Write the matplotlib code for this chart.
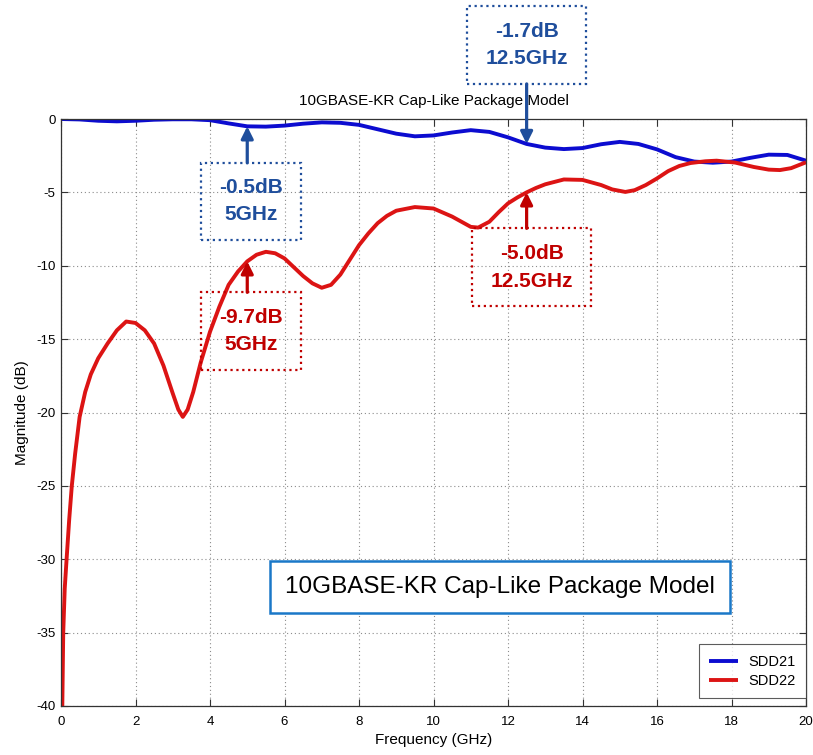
import matplotlib
matplotlib.use("Agg")
import matplotlib.pyplot as plt
from matplotlib.patches import Rectangle
from matplotlib.transforms import IdentityTransform

# ---- data -------------------------------------------------------------
sdd21_freq = [0.0, 0.5, 1.0, 1.5, 2.0, 2.5, 3.0, 3.5, 4.0, 4.5, 5.0, 5.5, 6.0,
              6.5, 7.0, 7.5, 8.0, 8.5, 9.0, 9.5, 10.0, 10.5, 11.0, 11.5, 12.0,
              12.5, 13.0, 13.5, 14.0, 14.5, 15.0, 15.5, 16.0, 16.5, 17.0, 17.5,
              18.0, 18.5, 19.0, 19.5, 20.0]
sdd21_db = [0.0, -0.03, -0.12, -0.16, -0.12, -0.05, -0.02, -0.02, -0.08, -0.3,
            -0.5, -0.52, -0.45, -0.32, -0.23, -0.26, -0.4, -0.7, -1.0, -1.18,
            -1.12, -0.92, -0.76, -0.88, -1.25, -1.7, -1.95, -2.05, -1.98, -1.72,
            -1.56, -1.7, -2.07, -2.6, -2.9, -2.98, -2.9, -2.65, -2.43, -2.45,
            -2.84]

sdd22_freq = [0.035, 0.06, 0.1, 0.15, 0.22, 0.29, 0.38, 0.5, 0.65, 0.8, 1.0,
              1.25, 1.5, 1.75, 2.0, 2.25, 2.5, 2.75, 3.0, 3.15, 3.27, 3.4, 3.55,
              3.75, 4.0, 4.25, 4.5, 4.75, 5.0, 5.25, 5.5, 5.75, 6.0, 6.25, 6.5,
              6.75, 7.0, 7.25, 7.5, 7.75, 8.0, 8.25, 8.5, 8.75, 9.0, 9.5, 10.0,
              10.5, 10.75, 11.0, 11.2, 11.5, 11.75, 12.0, 12.25, 12.5, 12.75,
              13.0, 13.5, 14.0, 14.5, 14.8, 15.15, 15.4, 15.7, 16.0, 16.3, 16.6,
              16.9, 17.3, 17.6, 18.1, 18.6, 19.0, 19.3, 19.6, 20.0]
sdd22_db = [-40.0, -35.0, -32.0, -30.0, -27.3, -25.0, -22.8, -20.3, -18.6,
            -17.4, -16.3, -15.3, -14.4, -13.8, -13.9, -14.4, -15.3, -16.8,
            -18.7, -19.8, -20.3, -19.8, -18.6, -16.6, -14.5, -12.8, -11.3,
            -10.4, -9.7, -9.25, -9.05, -9.15, -9.5, -10.1, -10.7, -11.2, -11.5,
            -11.3, -10.6, -9.6, -8.6, -7.8, -7.1, -6.6, -6.25, -6.0, -6.1,
            -6.65, -7.0, -7.35, -7.4, -7.0, -6.35, -5.75, -5.35, -5.0, -4.7,
            -4.45, -4.12, -4.15, -4.5, -4.8, -4.97, -4.85, -4.5, -4.05, -3.55,
            -3.2, -3.0, -2.88, -2.84, -2.97, -3.27, -3.45, -3.48, -3.35, -2.95]

x_ticks = [0, 2, 4, 6, 8, 10, 12, 14, 16, 18, 20]
y_ticks = [0, -5, -10, -15, -20, -25, -30, -35, -40]

# callouts: (freq GHz, dB, colour key, box centre offset px, box size px)
callouts = [
    (5.0, -0.5, "blue", (4, -75), (100, 77)),
    (12.5, -1.7, "blue", (0, 99), (119, 78)),
    (5.0, -9.7, "red", (4, -70), (100, 78)),
    (12.5, -5.0, "red", (5, -75), (119, 78)),
]

title = "10GBASE-KR Cap-Like Package Model"

# ---- styling ----------------------------------------------------------
plt.rcParams["font.family"] = ["Liberation Sans", "DejaVu Sans"]

line_blue = "#0c0cd0"
line_red = "#dc1414"
note_colors = {"blue": "#1f4e9c", "red": "#c00000"}

fig = plt.figure(figsize=(8.13, 7.55), dpi=100)
ax = fig.add_axes([61 / 813, 49 / 755, 745 / 813, 587 / 755])

ax.plot(sdd21_freq, sdd21_db, color=line_blue, lw=2.8, label="SDD21",
        solid_capstyle="butt")
ax.plot(sdd22_freq, sdd22_db, color=line_red, lw=2.8, label="SDD22",
        solid_capstyle="butt")

ax.set_xlim(0, 20)
ax.set_ylim(-40, 0)
ax.set_xticks(x_ticks)
ax.set_yticks(y_ticks)
ax.set_xticklabels([str(t) for t in x_ticks])
ax.set_yticklabels([str(t) for t in y_ticks])

ax.grid(True, color="#8c8c8c", linestyle=(0, (1, 2.5)), lw=0.8)
ax.tick_params(direction="in", length=5, width=0.8, top=True, right=True,
               labelsize=9.5, color="#333333")
ax.tick_params(axis="x", pad=7)
ax.tick_params(axis="y", pad=4)
for sp in ax.spines.values():
    sp.set_color("#333333")
    sp.set_linewidth(0.9)

ax.set_title(title, fontsize=11, pad=10)
ax.set_xlabel("Frequency (GHz)", fontsize=11, labelpad=4)
ax.set_ylabel("Magnitude (dB)", fontsize=11, labelpad=5)

# value callouts: dotted frame, two-line label and an arrow to the curve
for f, db, key, (dx, dy), (bw, bh) in callouts:
    c = note_colors[key]
    tx, ty = ax.transData.transform((f, db))
    cx, cy = tx + dx, ty + dy
    fig.add_artist(Rectangle((cx - bw / 2, cy - bh / 2), bw, bh,
                             transform=IdentityTransform(), fill=False,
                             ec=c, ls=":", lw=1.6, zorder=4))
    ax.annotate(f"{db:.1f}dB\n{f:g}GHz", xy=(f, db), xytext=(dx, dy),
                textcoords="offset pixels", ha="center", va="center",
                fontsize=15, fontweight="bold", color=c, linespacing=1.55,
                annotation_clip=False, zorder=5)
    edge = dy + (bh / 2 if dy < 0 else -bh / 2)
    ax.annotate("", xy=(f, db), xytext=(0, edge), textcoords="offset pixels",
                annotation_clip=False, zorder=5,
                arrowprops=dict(arrowstyle="-|>", color=c, lw=2.3,
                                mutation_scale=18, shrinkA=0, shrinkB=0))

# framed chart caption
ax.text(0.5886, 0.2027, title, transform=ax.transAxes, ha="center",
        va="center", fontsize=17.5, color="black", zorder=6,
        bbox=dict(boxstyle="square,pad=0.62", fc="white", ec="#1a78c8",
                  lw=1.8))

leg = ax.legend(loc="lower right", bbox_to_anchor=(1.0, 8 / 587),
                fontsize=10.5, frameon=True, fancybox=False,
                edgecolor="#333333", handlelength=2.0, borderaxespad=0.0,
                borderpad=0.7, labelspacing=0.35, handletextpad=0.7)
leg.get_frame().set_linewidth(0.8)
for h in leg.get_lines():
    h.set_linewidth(2.8)

fig.savefig("out.png", dpi=100)
